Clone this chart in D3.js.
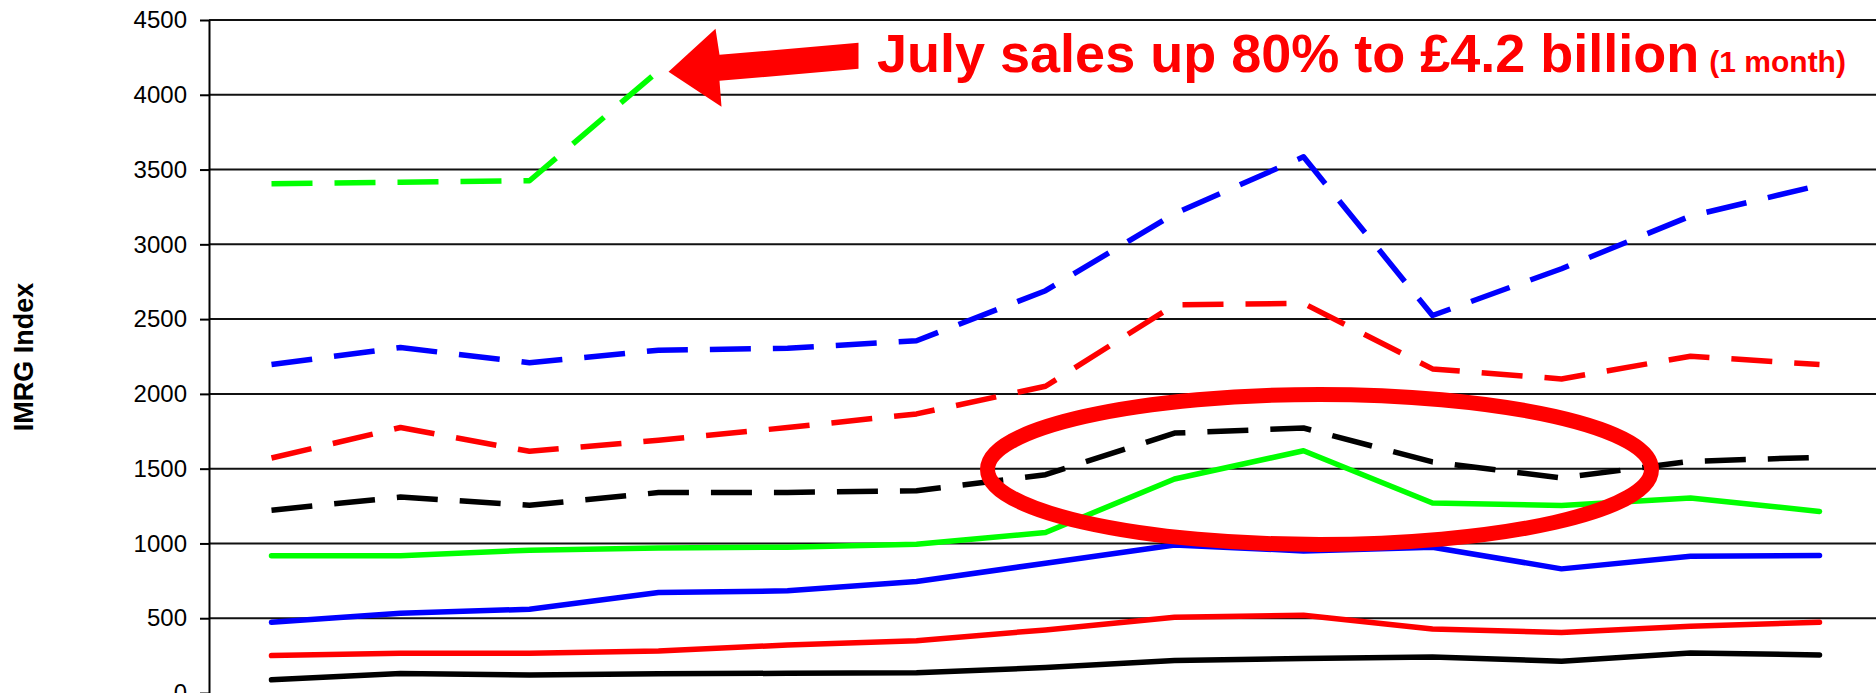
<!doctype html>
<html>
<head>
<meta charset="utf-8">
<style>
    body{
        margin: 0;
        background-color: #ffffff;
    }
    svg{
        display: block;
    }
</style>
<script src="https://cdnjs.cloudflare.com/ajax/libs/d3/7.8.5/d3.min.js"></script>
</head>
<body>
<div id="chart"></div>
<script>
    // categories (months, the axis labels are cut off in the original)
    var months = ['Apr', 'May', 'Jun', 'Jul', 'Aug', 'Sep', 'Oct', 'Nov', 'Dec', 'Jan', 'Feb', 'Mar', 'Apr'];
    var yTicks = [0, 500, 1000, 1500, 2000, 2500, 3000, 3500, 4000, 4500];

    // series values
    var blackSolid  = [88, 130, 120, 128, 132, 135, 170, 217, 230, 241, 212, 268, 254];
    var redSolid    = [250, 266, 266, 281, 321, 350, 422, 507, 520, 428, 404, 446, 473];
    var blueSolid   = [473, 533, 560, 672, 683, 745, 868, 990, 950, 975, 830, 915, 920];
    var greenSolid  = [917, 917, 955, 969, 975, 995, 1073, 1431, 1620, 1270, 1254, 1304, 1214];
    var blackDashed = [1222, 1310, 1255, 1340, 1341, 1352, 1460, 1738, 1772, 1545, 1438, 1549, 1576];
    var redDashed   = [1571, 1775, 1616, 1690, 1775, 1866, 2051, 2595, 2605, 2167, 2100, 2252, 2196];
    var blueDashed  = [2196, 2310, 2208, 2292, 2305, 2355, 2690, 3205, 3585, 2524, 2837, 3189, 3395];
    var greenDashed = [3405, 3415, 3425, 4160];

    var annotation = 'July sales up 80% to £4.2 billion';
    var annotationSmall = '(1 month)';
    var yLabel = 'IMRG Index';

    var series = [
        {values: blackSolid,  color: '#000000', dashed: false},
        {values: redSolid,    color: '#ff0000', dashed: false},
        {values: blueSolid,   color: '#0000ff', dashed: false},
        {values: greenSolid,  color: '#00ff00', dashed: false},
        {values: blackDashed, color: '#000000', dashed: true},
        {values: redDashed,   color: '#ff0000', dashed: true},
        {values: blueDashed,  color: '#0000ff', dashed: true},
        {values: greenDashed, color: '#00ff00', dashed: true}
    ];

    var width = 1876;
    var height = 693;
    var axisX = 209;

    var svg = d3.select('#chart')
        .append('svg')
        .attr('width', width)
        .attr('height', height);

    svg.append('rect')
        .attr('width', width)
        .attr('height', height)
        .attr('fill', '#ffffff');

    var xScale = d3.scalePoint()
        .domain(months.map(function(m, i){ return i; }))
        .range([207, 1884])
        .padding(0.5);

    var yScale = d3.scaleLinear()
        .domain([0, 4500])
        .range([693, 20]);

    // gridlines
    svg.append('g')
        .attr('class', 'grid')
        .selectAll('line')
        .data(yTicks.filter(function(d){ return d > 0; }))
        .enter()
        .append('line')
        .attr('x1', axisX)
        .attr('x2', width)
        .attr('y1', function(d){ return yScale(d); })
        .attr('y2', function(d){ return yScale(d); })
        .attr('stroke', '#111')
        .attr('stroke-width', 2);

    // y axis
    var yAxis = d3.axisLeft(yScale)
        .tickValues(yTicks)
        .tickFormat(d3.format('d'))
        .tickSize(9)
        .tickSizeOuter(0)
        .tickPadding(13);

    var yg = svg.append('g')
        .attr('id', 'y-axis')
        .attr('transform', 'translate(' + axisX + ',0)')
        .call(yAxis);

    yg.select('.domain').attr('stroke', '#000').attr('stroke-width', 2);
    yg.selectAll('.tick line').attr('stroke', '#000').attr('stroke-width', 2);
    yg.selectAll('.tick text')
        .attr('fill', '#000')
        .style('font-family', '"Liberation Sans", Arial, sans-serif')
        .style('font-size', '24px');

    svg.append('text')
        .attr('transform', 'translate(33,357) rotate(-90)')
        .attr('text-anchor', 'middle')
        .style('font-family', '"Liberation Sans", Arial, sans-serif')
        .style('font-size', '27px')
        .style('font-weight', 'bold')
        .attr('fill', '#000')
        .text(yLabel);

    // lines
    var line = d3.line()
        .x(function(d, i){ return xScale(i); })
        .y(function(d){ return yScale(d); });

    svg.append('g')
        .attr('class', 'lines')
        .selectAll('path')
        .data(series)
        .enter()
        .append('path')
        .attr('d', function(d){ return line(d.values); })
        .attr('fill', 'none')
        .attr('stroke', function(d){ return d.color; })
        .attr('stroke-width', 5.5)
        .attr('stroke-linejoin', 'round')
        .attr('stroke-linecap', function(d){ return d.dashed ? 'butt' : 'round'; })
        .attr('stroke-dasharray', function(d){ return d.dashed ? '41,22' : null; });

    // ellipse round the peak
    svg.append('ellipse')
        .attr('cx', xScale(8) + 16)
        .attr('cy', yScale(1495))
        .attr('rx', 332)
        .attr('ry', 75)
        .attr('fill', 'none')
        .attr('stroke', '#ff0000')
        .attr('stroke-width', 15);

    // arrow pointing at the July figure
    var tipX = xScale(3) + 10;
    var tipY = yScale(greenDashed[3]) + 1;
    var arrowPts = [[0, 0], [47, -43], [51, -17], [190, -29], [190, -3], [51, 9], [53, 35]];
    svg.append('polygon')
        .attr('points', arrowPts.map(function(p){ return (tipX + p[0]) + ',' + (tipY + p[1]); }).join(' '))
        .attr('fill', '#ff0000');

    var note = svg.append('text')
        .attr('x', 877)
        .attr('y', 72)
        .attr('fill', '#ff0000')
        .style('font-family', '"Liberation Sans", Arial, sans-serif')
        .style('font-weight', 'bold');

    note.append('tspan')
        .style('font-size', '54px')
        .text(annotation);

    note.append('tspan')
        .attr('dx', 10)
        .style('font-size', '30px')
        .text(annotationSmall);
</script>
</body>
</html>
